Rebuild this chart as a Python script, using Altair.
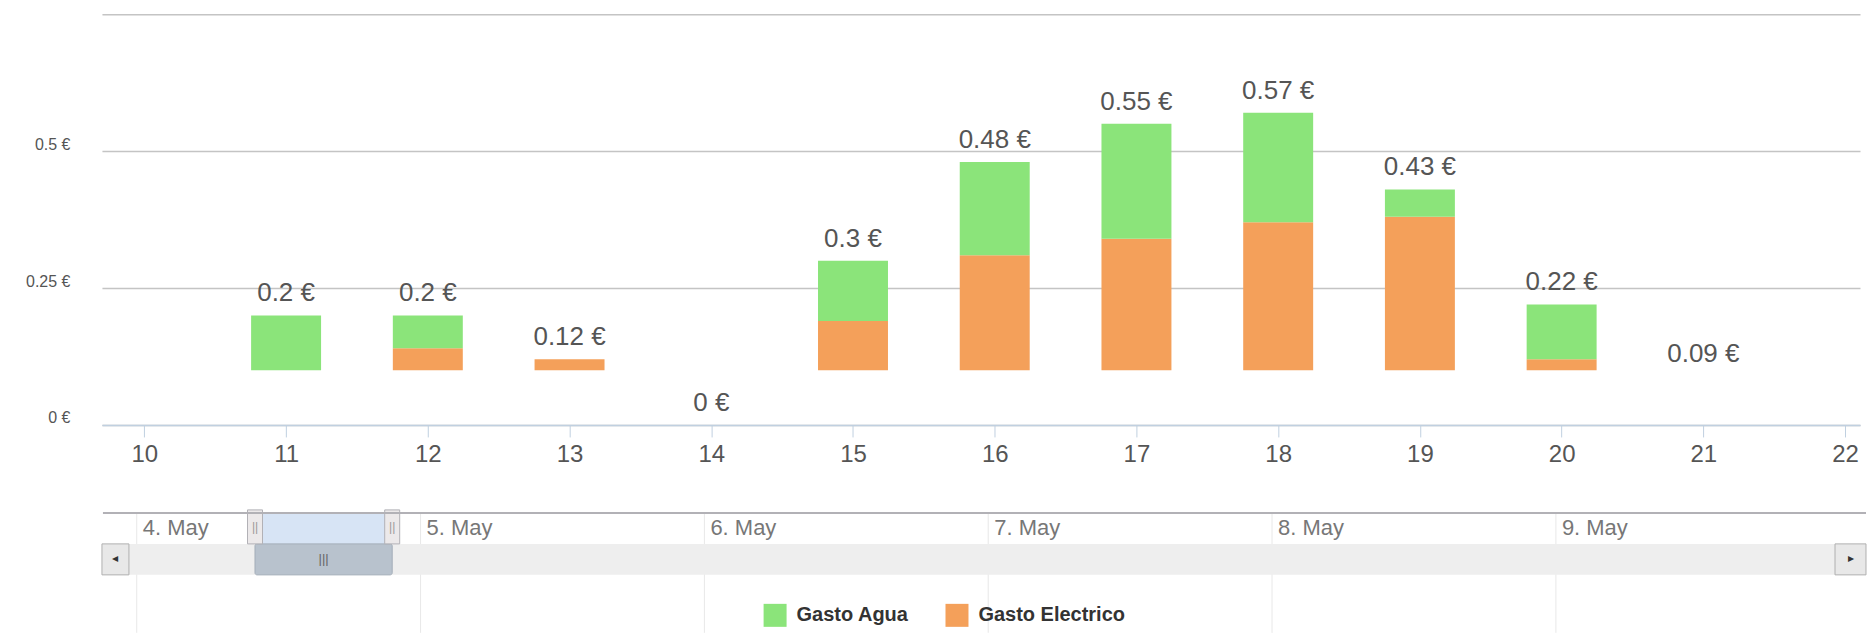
import altair as alt
import pandas as pd

# ---------------- data ----------------
hours = [11, 12, 13, 14, 15, 16, 17, 18, 19, 20, 21]
gasto_electrico = [0.10, 0.14, 0.12, 0.00, 0.19, 0.31, 0.34, 0.37, 0.38, 0.12, 0.09]
gasto_agua = [0.10, 0.06, 0.00, 0.00, 0.11, 0.17, 0.21, 0.20, 0.05, 0.10, 0.00]
totals = [0.2, 0.2, 0.12, 0.0, 0.3, 0.48, 0.55, 0.57, 0.43, 0.22, 0.09]
bar_base = 0.1  # bars are drawn up from this threshold

series = ["Gasto Agua", "Gasto Electrico"]
colors = ["#8be47a", "#f4a05a"]

x_ticks = list(range(10, 23))
y_ticks = [0, 0.25, 0.5, 0.75]

nav_day_hours = [0, 24, 48, 72, 96, 120]
nav_day_labels = ["4. May", "5. May", "6. May", "7. May", "8. May", "9. May"]
nav_selection = [10, 21.6]

FONT = "Liberation Sans"

# ---------------- tables ----------------
rows = []
for h, e, a in zip(hours, gasto_electrico, gasto_agua):
    e_top = max(e, bar_base)
    if e > bar_base:
        rows.append({"hour": h, "series": "Gasto Electrico", "lo": bar_base, "hi": e})
    if e + a > e_top:
        rows.append({"hour": h, "series": "Gasto Agua", "lo": e_top, "hi": e + a})
bars_df = pd.DataFrame(rows)

labels_df = pd.DataFrame({
    "hour": hours,
    "total": totals,
    "label": [f"{round(t, 2):g} €" for t in totals],
})

W, H = 1759, 411
x_scale = alt.Scale(domain=[9.736, 22.07], nice=False, zero=False)
y_scale = alt.Scale(domain=[0, 0.75], nice=False)

x_axis = alt.Axis(values=x_ticks, title=None, grid=False, labelFontSize=24,
                  labelColor="#555555", labelFont=FONT, tickSize=12,
                  tickColor="#c0d0e0", domainColor="#c0d0e0", domainWidth=1.5,
                  labelPadding=6, labelFlush=False, labelOverlap=False, zindex=1)
y_axis = alt.Axis(values=y_ticks, title=None, grid=True, gridColor="#c4c4c4",
                  gridWidth=1.5, domain=False, ticks=False, labelFontSize=16,
                  labelColor="#555555", labelFont=FONT, labelPadding=32,
                  labelOffset=-7,
                  labelExpr="datum.value == 0.75 ? '' : datum.value + ' €'")

bars = alt.Chart(bars_df).mark_bar(size=70).encode(
    x=alt.X("hour:Q", scale=x_scale, axis=x_axis),
    y=alt.Y("lo:Q", scale=y_scale, axis=y_axis),
    y2="hi:Q",
    color=alt.Color("series:N",
                    scale=alt.Scale(domain=series, range=colors),
                    legend=alt.Legend(orient="none", legendX=662, legendY=590,
                                      direction="horizontal", title=None,
                                      symbolType="square", symbolSize=529,
                                      symbolStrokeWidth=0, labelFontSize=20,
                                      labelFontWeight="bold", labelColor="#333333",
                                      labelFont=FONT, labelOffset=10,
                                      columnPadding=36)),
)

texts = alt.Chart(labels_df).mark_text(
    fontSize=26, color="#555555", font=FONT, baseline="middle", dy=-22
).encode(
    x=alt.X("hour:Q", scale=x_scale, axis=x_axis),
    y=alt.Y("total:Q", scale=y_scale, axis=y_axis),
    text="label:N",
)

main = alt.layer(bars, texts).properties(width=W, height=H)

# ---------------- navigator ----------------
NW, NH = 1765, 120
nx_scale = alt.Scale(domain=[-2.52, 145.8], nice=False, zero=False)

days_df = pd.DataFrame({"hour": nav_day_hours, "label": nav_day_labels})
sel_df = pd.DataFrame({"start": [nav_selection[0]], "end": [nav_selection[1]],
                       "mid": [(nav_selection[0] + nav_selection[1]) / 2]})
handles_df = pd.DataFrame({"edge": nav_selection})
one_df = pd.DataFrame({"k": [0]})

day_rules = alt.Chart(days_df).mark_rule(color="#e8e8e8", strokeWidth=1).encode(
    x=alt.X("hour:Q", scale=nx_scale, axis=None),
    y=alt.value(0), y2=alt.value(NH),
)
day_text = alt.Chart(days_df).mark_text(
    align="left", baseline="middle", dx=6, fontSize=22, color="#777777", font=FONT
).encode(
    x=alt.X("hour:Q", scale=nx_scale, axis=None),
    y=alt.value(15), text="label:N",
)
top_line = alt.Chart(one_df).mark_rule(color="#b2b1b6", strokeWidth=2).encode(
    x=alt.value(1), x2=alt.value(NW), y=alt.value(0),
)
selection = alt.Chart(sel_df).mark_rect(fill="#d7e4f5").encode(
    x=alt.X("start:Q", scale=nx_scale, axis=None), x2="end:Q",
    y=alt.value(1), y2=alt.value(31),
)
track = alt.Chart(one_df).mark_rect(fill="#eeeeee").encode(
    x=alt.value(0), x2=alt.value(NW), y=alt.value(31), y2=alt.value(62),
)
thumb = alt.Chart(sel_df).mark_rect(fill="#b8c2cd", stroke="#a3adb8",
                                    strokeWidth=1, cornerRadius=2).encode(
    x=alt.X("start:Q", scale=nx_scale, axis=None), x2="end:Q",
    y=alt.value(31), y2=alt.value(62),
)
thumb_grip = alt.Chart(sel_df).mark_text(
    text="|||", fontSize=13, color="#666666", font=FONT, baseline="middle"
).encode(
    x=alt.X("mid:Q", scale=nx_scale, axis=None), y=alt.value(46),
)
handles = alt.Chart(handles_df).mark_bar(size=15, fill="#ece9ea",
                                         stroke="#b2b1b6", strokeWidth=1).encode(
    x=alt.X("edge:Q", scale=nx_scale, axis=None),
    y=alt.value(-3), y2=alt.value(31),
)
handle_grip = alt.Chart(handles_df).mark_text(
    text="||", fontSize=12, color="#999999", font=FONT, baseline="middle"
).encode(
    x=alt.X("edge:Q", scale=nx_scale, axis=None), y=alt.value(14),
)
btn_left = alt.Chart(one_df).mark_rect(fill="#e8e8e8", stroke="#b0b0b0").encode(
    x=alt.value(0), x2=alt.value(27), y=alt.value(31), y2=alt.value(62),
)
btn_right = alt.Chart(one_df).mark_rect(fill="#e8e8e8", stroke="#b0b0b0").encode(
    x=alt.value(NW - 31), x2=alt.value(NW), y=alt.value(31), y2=alt.value(62),
)
arrow_left = alt.Chart(one_df).mark_text(
    text="◀", fontSize=8, color="#333333", font="DejaVu Sans", baseline="middle"
).encode(x=alt.value(13), y=alt.value(46))
arrow_right = alt.Chart(one_df).mark_text(
    text="▶", fontSize=8, color="#333333", font="DejaVu Sans", baseline="middle"
).encode(x=alt.value(NW - 15), y=alt.value(46))

nav = alt.layer(
    day_rules, track, selection, thumb, thumb_grip, handles, handle_grip,
    top_line, day_text, btn_left, btn_right, arrow_left, arrow_right,
).properties(width=NW, height=NH)

chart = alt.vconcat(main, nav, spacing=88, bounds="flush").configure(
    font=FONT
).configure_view(
    strokeWidth=0, stroke="transparent"
).properties(
    padding={"left": 17, "top": 6, "right": 0, "bottom": 0}
)

chart.save("out.html", embed_options={"renderer": "svg", "actions": False})
